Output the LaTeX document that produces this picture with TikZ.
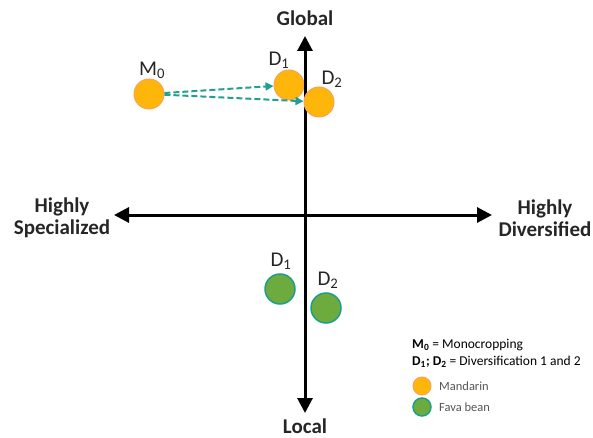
\documentclass[tikz,border=0pt]{standalone}
\usepackage{fontspec}
\setmainfont{Carlito}
\usetikzlibrary{arrows.meta}
\definecolor{mand}{HTML}{FFB60A}
\definecolor{mandedge}{HTML}{F7A35C}
\definecolor{fava}{HTML}{6EAB3F}
\definecolor{favaedge}{HTML}{1C9E8A}
\definecolor{teal}{HTML}{20A08E}
\definecolor{legtext}{HTML}{555555}
\newcommand{\mysub}[1]{\textsubscript{#1}}
\tikzset{
  axis/.style={line width=3pt,-{Triangle[length=15pt,width=15pt]}},
  axislabel/.style={font=\fontsize{21}{22}\selectfont\bfseries,align=center,text=black!85},
  mandarin/.style={circle,draw=mandedge,fill=mand,line width=1pt,minimum size=30pt,inner sep=0pt},
  favabean/.style={circle,draw=favaedge,fill=fava,line width=1.5pt,minimum size=30pt,inner sep=0pt},
  ptlabel/.style={font=\fontsize{21}{22}\selectfont,text=black!85},
  move/.style={teal,line width=2pt,dash pattern=on 6pt off 3pt,-{Triangle[length=8pt,width=8pt]}},
  legcirc/.style={circle,line width=1pt,minimum size=18pt,inner sep=0pt},
  legtxt/.style={font=\fontsize{13.5}{15}\selectfont,anchor=west,inner sep=0pt},
}
\begin{document}
\begin{tikzpicture}[x=1pt,y=-1pt]
\useasboundingbox (0,0) rectangle (593,438);
% D1 mandarin sits behind the vertical axis
\node[mandarin] (md1) at (289,85) {};
% axes
\coordinate (top) at (305,36);
\coordinate (bot) at (305,413);
\coordinate (lft) at (114,215);
\coordinate (rgt) at (492,215);
\coordinate (ctr) at (305,215);
\draw[axis] (ctr) -- (top);
\draw[axis] (ctr) -- (bot);
\draw[axis] (ctr) -- (lft);
\draw[axis] (ctr) -- (rgt);
\node[axislabel] (global) at (305,18) {Global};
\node[axislabel] (local) at (305,426) {Local};
\node[axislabel] (spec) at (62,218) {Highly\\Specialized};
\node[axislabel] (div) at (545,218) {Highly\\Diversified};
% mandarin
\node[mandarin] (m0) at (149,94) {};
\node[mandarin] (md2) at (319,102) {};
\node[ptlabel] (m0l) at (152,70) {M\mysub{0}};
\node[ptlabel] (md1l) at (279,60) {D\mysub{1}};
\node[ptlabel] (md2l) at (332,79) {D\mysub{2}};
\draw[move] (m0) -- (md1);
\draw[move] (m0) -- (md2);
% fava bean
\node[favabean] (fd1) at (280,289) {};
\node[favabean] (fd2) at (326,308) {};
\node[ptlabel] (fd1l) at (281,261) {D\mysub{1}};
\node[ptlabel] (fd2l) at (328,280) {D\mysub{2}};
% legend
\node[legtxt] (leg1) at (412,345) {\textbf{M\mysub{0}} = Monocropping};
\node[legtxt] (leg2) at (412,362) {\textbf{D\mysub{1}; D\mysub{2}} = Diversification 1 and 2};
\node[legcirc,draw=mandedge,fill=mand] (lc1) at (422,386) {};
\node[legcirc,draw=favaedge,fill=fava,line width=1.5pt] (lc2) at (422,407) {};
\node[legtxt,text=legtext,font=\fontsize{12.5}{14}\selectfont] (lt1) at (439,386) {Mandarin};
\node[legtxt,text=legtext,font=\fontsize{12.5}{14}\selectfont] (lt2) at (439,407) {Fava bean};
\end{tikzpicture}
\end{document}
